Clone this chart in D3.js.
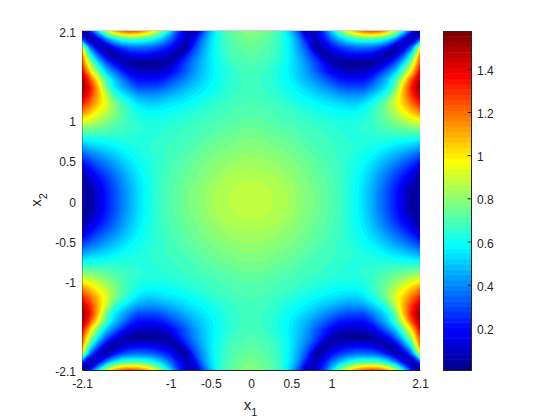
<!DOCTYPE html>
<html>
<head>
<meta charset="utf-8">
<script src="https://cdn.jsdelivr.net/npm/d3@7"></script>
<style>
  html, body { margin: 0; padding: 0; background: #fff; }
  text { font-family: "Liberation Sans", Arial, sans-serif; fill: #262626; }
</style>
</head>
<body>
<svg id="chart" width="560" height="420"></svg>
<script>
//axis ticks
const xTicks = [-2.1, -1, -0.5, 0, 0.5, 1, 2.1];
const yTicks = [-2.1, -1, -0.5, 0, 0.5, 1, 2.1];
const cbTicks = [0.2, 0.4, 0.6, 0.8, 1, 1.2, 1.4];
const colorRange = [0.005, 1.575];

//one quarter of the picture, read by eye: rows are |x2| = 0..2.1, columns are |x1| = 0..2.1
const quarter = [
  [.88,.88,.87,.86,.85,.83,.80,.78,.76,.73,.71,.68,.64,.59,.53,.46,.38,.30,.22,.13,.02,.10],
  [.88,.88,.87,.86,.85,.83,.80,.78,.76,.73,.71,.68,.64,.59,.53,.46,.38,.30,.22,.13,.03,.07],
  [.87,.87,.86,.85,.84,.82,.79,.77,.75,.73,.70,.68,.64,.59,.54,.47,.40,.32,.24,.16,.08,.04],
  [.85,.85,.85,.84,.82,.80,.78,.76,.74,.72,.70,.67,.64,.60,.55,.49,.42,.35,.28,.21,.14,.04],
  [.84,.83,.83,.82,.80,.79,.77,.75,.73,.71,.69,.67,.64,.61,.57,.52,.46,.40,.34,.28,.21,.12],
  [.82,.82,.81,.80,.79,.77,.76,.74,.72,.70,.68,.66,.64,.62,.59,.55,.51,.46,.41,.36,.30,.24],
  [.80,.80,.79,.78,.77,.76,.74,.72,.71,.69,.68,.66,.65,.63,.61,.59,.56,.52,.49,.45,.41,.36],
  [.78,.78,.77,.76,.75,.74,.72,.71,.69,.68,.67,.66,.65,.64,.63,.62,.61,.59,.57,.55,.53,.50],
  [.76,.76,.75,.74,.73,.72,.70,.69,.68,.67,.66,.65,.64,.64,.64,.64,.65,.65,.65,.65,.65,.64],
  [.74,.74,.73,.72,.71,.70,.69,.68,.67,.66,.65,.64,.64,.64,.65,.66,.68,.70,.73,.75,.77,.80],
  [.72,.72,.71,.70,.69,.68,.67,.66,.65,.64,.63,.62,.62,.62,.63,.66,.70,.75,.80,.86,.92,.98],
  [.71,.70,.70,.69,.68,.67,.65,.64,.62,.61,.59,.58,.58,.58,.60,.65,.71,.79,.88,.97,1.07,1.17],
  [.70,.69,.68,.67,.66,.64,.62,.60,.58,.56,.55,.53,.51,.51,.54,.61,.68,.79,.93,1.06,1.2,1.33],
  [.68,.68,.67,.65,.63,.61,.58,.56,.53,.50,.47,.44,.42,.42,.44,.50,.58,.68,.88,1.10,1.30,1.47],
  [.68,.67,.66,.64,.61,.58,.55,.51,.47,.42,.38,.33,.30,.30,.30,.38,.46,.56,.75,1.08,1.35,1.56],
  [.68,.67,.66,.63,.60,.56,.51,.46,.40,.34,.28,.22,.20,.20,.20,.26,.38,.50,.68,.95,1.25,1.5],
  [.69,.68,.66,.63,.60,.55,.49,.42,.33,.25,.17,.11,.09,.09,.10,.14,.24,.36,.50,.74,1.02,1.38],
  [.70,.69,.68,.65,.61,.55,.48,.40,.30,.20,.06,.03,.01,.01,.01,.03,.08,.18,.33,.55,.85,1.25],
  [.72,.71,.70,.67,.62,.55,.46,.35,.22,.04,.08,.12,.16,.18,.17,.15,.08,.01,.12,.33,.62,1.15],
  [.74,.73,.71,.68,.62,.54,.42,.28,.03,.10,.20,.27,.32,.35,.36,.35,.30,.20,.05,.10,.35,.90],
  [.77,.75,.73,.69,.63,.53,.38,.18,.08,.20,.35,.48,.58,.65,.68,.68,.65,.55,.38,.15,.02,.30],
  [.79,.77,.74,.70,.62,.48,.28,.05,.12,.27,.52,.76,.95,1.10,1.20,1.24,1.20,1.08,.88,.55,.22,.02]
];

//mirror the quarter into the full grid
const rowIdx = d3.range(-21, 22).map(Math.abs);
const gridVals = [];
rowIdx.forEach(r => rowIdx.forEach(c => gridVals.push(quarter[r][c])));
const n = rowIdx.length;

//matlab jet(64)
const jetAt = d3.scaleLinear()
  .domain([0, 7, 23, 39, 55, 63])
  .range(["rgb(0,0,143)", "rgb(0,0,255)", "rgb(0,255,255)", "rgb(255,255,0)", "rgb(255,0,0)", "rgb(128,0,0)"])
  .interpolate(d3.interpolateRgb);

const plotL = 82, plotR = 420, plotT = 31, plotB = 370;
const cbL = 443, cbR = 471;

const svg = d3.select("#chart");
svg.append("rect").attr("width", 560).attr("height", 420).attr("fill", "#fff");

const scaleX = d3.scaleLinear().domain([-2.1, 2.1]).range([plotL, plotR]);
const scaleY = d3.scaleLinear().domain([-2.1, 2.1]).range([plotB, plotT]);
const scaleC = d3.scaleLinear().domain(colorRange).range([plotB, plotT]);

//d3.contours puts grid point i at i + 0.5
const gridX = d3.scaleLinear().domain([0.5, n - 0.5]).range([plotL, plotR]);
const gridY = d3.scaleLinear().domain([0.5, n - 0.5]).range([plotT, plotB]);

svg.append("clipPath").attr("id", "plot-clip").append("rect")
  .attr("x", plotL).attr("y", plotT)
  .attr("width", plotR - plotL).attr("height", plotB - plotT);

const levels = d3.range(64);
const levelStep = (colorRange[1] - colorRange[0]) / 64;
const thresholds = levels.map(i => i === 0 ? -1 : colorRange[0] + i * levelStep);
const contours = d3.contours().size([n, n]).smooth(true).thresholds(thresholds)(gridVals);

const path = d3.geoPath(d3.geoTransform({
  point: function(x, y) { this.stream.point(gridX(x), gridY(y)); }
}));

svg.append("g").attr("clip-path", "url(#plot-clip)")
  .selectAll("path").data(contours).enter()
  .append("path")
  .attr("d", path)
  .attr("fill", (d, i) => jetAt(i))
  .attr("stroke", (d, i) => jetAt(i))
  .attr("stroke-width", 0.3);

//colorbar
svg.append("g").selectAll("rect").data(levels).enter()
  .append("rect")
  .attr("x", cbL)
  .attr("width", cbR - cbL)
  .attr("y", i => scaleC(colorRange[0] + (i + 1) * levelStep))
  .attr("height", (plotB - plotT) / 64 + 0.5)
  .attr("fill", i => jetAt(i));

//hyphen instead of d3's unicode minus, like the original
const tickFmt = d => String(d);

//axes
const xAxis = d3.axisBottom(scaleX).tickValues(xTicks).tickSize(0).tickPadding(9).tickFormat(tickFmt);
const yAxis = d3.axisLeft(scaleY).tickValues(yTicks).tickSize(0).tickPadding(6).tickFormat(tickFmt);
const cbAxis = d3.axisRight(scaleC).tickValues(cbTicks).tickSizeOuter(0).tickSizeInner(-3.5).tickPadding(6).tickFormat(tickFmt);

const gx = svg.append("g").attr("transform", `translate(0,${plotB})`).call(xAxis);
const gy = svg.append("g").attr("transform", `translate(${plotL},0)`).call(yAxis);
const gc = svg.append("g").attr("transform", `translate(${cbR},0)`).call(cbAxis);

[gx, gy, gc].forEach(g => {
  g.style("font-size", "12px").style("font-family", null);
  g.selectAll("path, line").attr("stroke", "#262626");
});
gc.selectAll("text").attr("x", 6).attr("dy", "0.46em");
gy.selectAll("text").attr("dy", "0.46em");
//left axis line is mostly under the image in the original
gy.select(".domain").attr("stroke-opacity", 0.35);

//faint top edge of the plot
svg.append("line")
  .attr("x1", plotL).attr("x2", plotR)
  .attr("y1", plotT - 0.5).attr("y2", plotT - 0.5)
  .attr("stroke", "#d0d0d0");

//colorbar frame
svg.append("rect")
  .attr("x", cbL + 0.5).attr("y", plotT + 0.5)
  .attr("width", cbR - cbL).attr("height", plotB - plotT)
  .attr("fill", "none").attr("stroke", "#262626");

//axis titles
const xLabel = svg.append("text")
  .attr("x", 250.5).attr("y", 410)
  .attr("text-anchor", "middle").attr("font-size", 15);
xLabel.append("tspan").text("x");
xLabel.append("tspan").text("1").attr("font-size", 11).attr("dy", 6);

const yLabel = svg.append("text")
  .attr("transform", "translate(40.5,200) rotate(-90)")
  .attr("text-anchor", "middle").attr("font-size", 15);
yLabel.append("tspan").text("x");
yLabel.append("tspan").text("2").attr("font-size", 11).attr("dy", 6);
</script>
</body>
</html>
